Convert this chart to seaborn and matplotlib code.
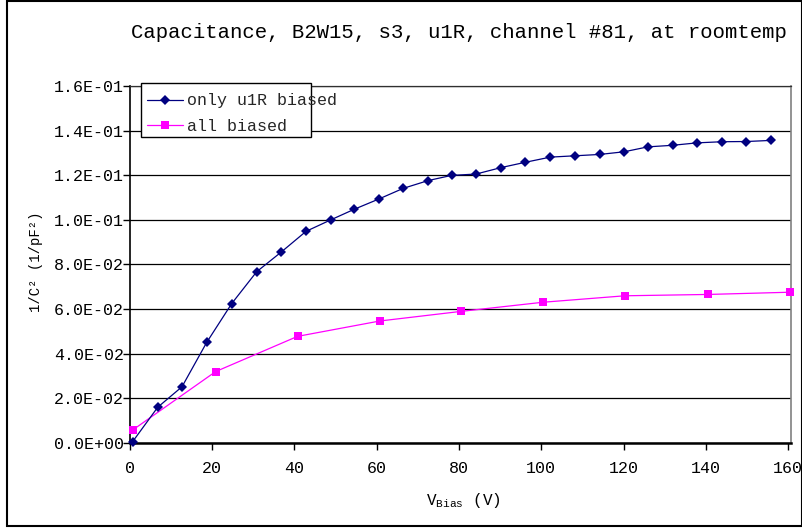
import matplotlib
matplotlib.use("Agg")
import matplotlib.pyplot as plt
from matplotlib.patches import Rectangle
import pandas as pd
import seaborn as sns

# Bias voltage (V) and 1/C^2 (1/pF^2) for each measurement series
only_u1r_bias = [0.75, 6.83, 12.73, 18.73, 24.80, 30.87, 36.82, 42.85, 48.80,
                 54.55, 60.53, 66.48, 72.55, 78.19, 84.14, 90.21, 96.16,
                 102.19, 108.26, 114.18, 120.14, 125.87, 131.87, 137.87,
                 143.87, 149.84, 155.87]
only_u1r_invc2 = [0.0005, 0.0159, 0.0251, 0.0450, 0.0624, 0.0767, 0.0855,
                  0.0948, 0.0999, 0.1047, 0.1093, 0.1141, 0.1176, 0.1199,
                  0.1205, 0.1234, 0.1258, 0.1281, 0.1287, 0.1293, 0.1305,
                  0.1327, 0.1334, 0.1345, 0.1350, 0.1351, 0.1356]

all_bias = [0.75, 20.9, 40.8, 60.8, 80.5, 100.4, 120.3, 140.5, 160.4]
all_invc2 = [0.0057, 0.0319, 0.0477, 0.0546, 0.0589, 0.0630, 0.0659,
             0.0665, 0.0675]

series_names = ["only u1R biased", "all biased"]
series_colors = ["#000080", "#FF00FF"]

x_ticks = [0, 20, 40, 60, 80, 100, 120, 140, 160]
y_ticks = [0.0, 0.02, 0.04, 0.06, 0.08, 0.10, 0.12, 0.14, 0.16]
y_tick_labels = ["0.0E+00", "2.0E-02", "4.0E-02", "6.0E-02", "8.0E-02",
                 "1.0E-01", "1.2E-01", "1.4E-01", "1.6E-01"]

title = "Capacitance, B2W15, s3, u1R, channel #81, at roomtemp"

df_u1r = pd.DataFrame({"bias": only_u1r_bias, "invc2": only_u1r_invc2})
df_all = pd.DataFrame({"bias": all_bias, "invc2": all_invc2})

sns.set_style("white")
mono = "Liberation Mono"
plt.rcParams["font.family"] = [mono, "DejaVu Sans Mono"]
plt.rcParams["mathtext.fontset"] = "custom"
plt.rcParams["mathtext.rm"] = mono
plt.rcParams["mathtext.it"] = mono

W, H = 803, 529
fig = plt.figure(figsize=(W / 100, H / 100), dpi=100)
fig.patch.set_facecolor("white")

left, right, top, bottom = 129.6, 791.0, 86.0, 442.7
ax = fig.add_axes([left / W, 1 - bottom / H, (right - left) / W, (bottom - top) / H])

sns.lineplot(data=df_u1r, x="bias", y="invc2", ax=ax, color=series_colors[0],
             marker="D", markersize=5.2, markeredgewidth=0, linewidth=0.9,
             sort=False, estimator=None, label=series_names[0], clip_on=False,
             zorder=4)
sns.lineplot(data=df_all, x="bias", y="invc2", ax=ax, color=series_colors[1],
             marker="s", markersize=5.2, markeredgewidth=0, linewidth=0.9,
             sort=False, estimator=None, label=series_names[1], clip_on=False,
             zorder=3)

ax.set_xlim(0, (right - left) / 4.117)
ax.set_ylim(0, 0.16)
ax.set_xticks(x_ticks)
ax.set_xticklabels([str(v) for v in x_ticks])
ax.set_yticks(y_ticks)
ax.set_yticklabels(y_tick_labels)
ax.tick_params(axis="both", labelsize=12, colors="black", length=5,
               width=1, direction="out")
ax.tick_params(axis="y", pad=-1)
ax.tick_params(axis="x", pad=8)
ax.tick_params(left=True, bottom=True)

ax.grid(axis="y", color="black", linewidth=0.9)
ax.grid(axis="x", visible=False)
ax.set_axisbelow(True)

ax.spines["left"].set_color("black")
ax.spines["left"].set_linewidth(1.2)
ax.spines["bottom"].set_color("black")
ax.spines["bottom"].set_linewidth(1.8)
ax.spines["top"].set_color("#303030")
ax.spines["top"].set_linewidth(0.9)
ax.spines["right"].set_color("#808080")
ax.spines["right"].set_linewidth(1.2)

ax.set_xlabel("")
ax.set_ylabel("")

# Legend box is narrower than its longest label, so draw the frame separately
legend_box = Rectangle((141 / W, 1 - 137.3 / H), (311 - 141) / W,
                       (137.3 - 82.7) / H, transform=fig.transFigure,
                       facecolor="white", edgecolor="black", linewidth=1.0,
                       zorder=5, clip_on=False)
ax.add_patch(legend_box)

leg = ax.legend(loc="upper left", bbox_to_anchor=(147 / W, 1 - 93.5 / H),
                bbox_transform=fig.transFigure, borderaxespad=0,
                frameon=False, fontsize=12, handlelength=2.15,
                handletextpad=0.25, borderpad=0.0, labelspacing=0.61)
leg.set_zorder(6)

fig.text(458.5 / W, 1 - 32 / H, title, ha="center", va="center",
         fontsize=14.85, color="black")
fig.text(36 / W, 1 - 262 / H, "1/C² (1/pF²)", rotation=90, ha="center",
         va="center", fontsize=10, color="black")
fig.text(463 / W, 1 - 500 / H, r"V$_{\mathrm{Bias}}$ (V)", ha="center",
         va="center", fontsize=11.5, color="black")

fig.patches.append(Rectangle((7 / W, 3 / H), (802 - 7) / W, (H - 4) / H,
                             transform=fig.transFigure, fill=False,
                             edgecolor="black", linewidth=1.5))

fig.savefig("out.png", dpi=100, facecolor="white")
